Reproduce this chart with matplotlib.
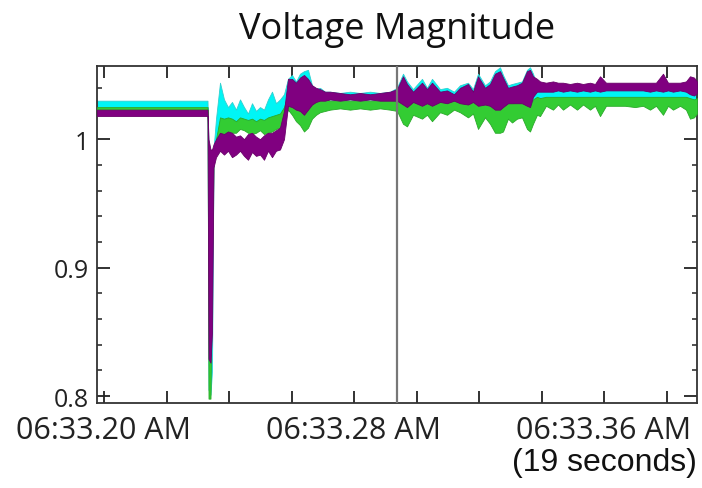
import matplotlib
matplotlib.use("Agg")
import matplotlib.pyplot as plt
from matplotlib.ticker import MultipleLocator, FixedLocator

# time axis in seconds (0 = 06:33.20 AM)
t = [-0.224, 1.472, 3.312, 3.344, 3.408, 3.456, 3.504, 3.584, 3.712, 3.84,
     3.968, 4.096, 4.224, 4.352, 4.48, 4.608, 4.736, 4.864, 4.992, 5.12,
     5.248, 5.376, 5.504, 5.632, 5.76, 5.888, 6.016, 6.144, 6.272, 6.4,
     6.528, 6.656, 6.784, 6.912, 7.072, 7.232, 7.552, 7.872, 8.192, 8.512,
     8.832, 9.152, 9.376, 9.568, 9.696, 9.888, 10.176, 10.336, 10.496, 10.752,
     10.976, 11.2, 11.392, 11.648, 11.808, 11.968, 12.192, 12.352, 12.512, 12.672,
     12.768, 12.928, 13.056, 13.216, 13.376, 13.536, 13.632, 13.728, 13.856, 13.952,
     14.144, 14.368, 14.528, 14.688, 14.912, 15.136, 15.328, 15.552, 15.712, 15.872,
     16.064, 16.352, 16.672, 16.992, 17.248, 17.472, 17.664, 17.888, 18.048, 18.208,
     18.432, 18.624, 18.752, 18.88, 18.976]

cyan_hi = [1.030, 1.030, 1.030, 0.992, 0.984, 0.982, 0.992, 1.016, 1.044, 1.031,
           1.025, 1.029, 1.023, 1.031, 1.025, 1.020, 1.028, 1.022, 1.025, 1.023,
           1.031, 1.037, 1.028, 1.031, 1.035, 1.047, 1.050, 1.045, 1.051, 1.053,
           1.054, 1.042, 1.039, 1.040, 1.037, 1.037, 1.036, 1.037, 1.036, 1.037,
           1.036, 1.037, 1.040, 1.051, 1.045, 1.039, 1.047, 1.040, 1.047, 1.039,
           1.040, 1.037, 1.042, 1.044, 1.039, 1.051, 1.042, 1.045, 1.053, 1.056,
           1.050, 1.042, 1.043, 1.044, 1.045, 1.054, 1.056, 1.051, 1.042, 1.040,
           1.040, 1.041, 1.040, 1.041, 1.040, 1.041, 1.040, 1.040, 1.040, 1.047,
           1.040, 1.040, 1.040, 1.040, 1.040, 1.041, 1.040, 1.048, 1.040, 1.041,
           1.040, 1.042, 1.047, 1.045, 1.042]
cyan_lo = [1.025, 1.025, 1.025, 0.805, 0.801, 0.820, 0.981, 0.992, 1.009, 1.009,
           1.010, 1.011, 1.009, 1.011, 1.012, 1.010, 1.009, 1.010, 1.011, 1.009,
           1.011, 1.012, 1.012, 1.014, 1.019, 1.023, 1.020, 1.017, 1.014, 1.011,
           1.016, 1.025, 1.028, 1.030, 1.030, 1.031, 1.030, 1.031, 1.030, 1.031,
           1.030, 1.030, 1.030, 1.022, 1.020, 1.026, 1.022, 1.026, 1.021, 1.027,
           1.026, 1.029, 1.026, 1.023, 1.027, 1.017, 1.023, 1.019, 1.014, 1.012,
           1.016, 1.025, 1.023, 1.025, 1.025, 1.016, 1.014, 1.025, 1.033, 1.032,
           1.033, 1.032, 1.033, 1.032, 1.033, 1.032, 1.033, 1.033, 1.033, 1.032,
           1.033, 1.033, 1.033, 1.033, 1.033, 1.032, 1.033, 1.032, 1.033, 1.032,
           1.033, 1.033, 1.031, 1.030, 1.031]

green_hi = [1.025, 1.025, 1.025, 0.988, 0.981, 0.981, 0.988, 1.000, 1.017, 1.016,
            1.017, 1.016, 1.014, 1.017, 1.016, 1.015, 1.016, 1.014, 1.016, 1.015,
            1.017, 1.018, 1.019, 1.020, 1.025, 1.035, 1.033, 1.031, 1.030, 1.028,
            1.030, 1.031, 1.033, 1.032, 1.031, 1.030, 1.030, 1.030, 1.030, 1.030,
            1.030, 1.030, 1.030, 1.028, 1.026, 1.029, 1.028, 1.029, 1.028, 1.030,
            1.029, 1.030, 1.029, 1.028, 1.029, 1.027, 1.028, 1.027, 1.026, 1.026,
            1.027, 1.028, 1.028, 1.029, 1.028, 1.027, 1.026, 1.031, 1.033, 1.032,
            1.033, 1.033, 1.033, 1.033, 1.033, 1.033, 1.033, 1.033, 1.033, 1.033,
            1.033, 1.033, 1.033, 1.033, 1.033, 1.033, 1.033, 1.033, 1.033, 1.033,
            1.033, 1.033, 1.032, 1.031, 1.032]
green_lo = [1.023, 1.023, 1.023, 0.798, 0.798, 0.900, 0.981, 0.992, 1.005, 1.004,
            1.006, 1.005, 1.005, 1.008, 1.007, 1.005, 1.004, 1.005, 1.007, 1.004,
            1.005, 1.006, 1.008, 1.009, 1.016, 1.023, 1.019, 1.014, 1.011, 1.006,
            1.009, 1.016, 1.019, 1.021, 1.022, 1.023, 1.024, 1.023, 1.024, 1.023,
            1.024, 1.023, 1.022, 1.012, 1.010, 1.019, 1.016, 1.019, 1.014, 1.021,
            1.019, 1.023, 1.021, 1.017, 1.020, 1.008, 1.017, 1.012, 1.005, 1.005,
            1.006, 1.016, 1.013, 1.016, 1.017, 1.008, 1.006, 1.012, 1.019, 1.018,
            1.026, 1.023, 1.027, 1.023, 1.027, 1.023, 1.027, 1.023, 1.026, 1.018,
            1.026, 1.026, 1.026, 1.025, 1.026, 1.023, 1.026, 1.019, 1.026, 1.023,
            1.026, 1.023, 1.016, 1.017, 1.020]

purple_hi = [1.023, 1.023, 1.023, 1.000, 0.992, 0.992, 0.996, 1.000, 1.005, 1.004,
             1.006, 1.005, 1.002, 1.003, 1.000, 1.004, 1.005, 1.002, 1.000, 1.003,
             1.005, 1.005, 1.007, 1.009, 1.022, 1.047, 1.047, 1.044, 1.048, 1.050,
             1.047, 1.042, 1.040, 1.039, 1.037, 1.037, 1.036, 1.035, 1.036, 1.035,
             1.036, 1.037, 1.039, 1.049, 1.043, 1.037, 1.044, 1.039, 1.044, 1.037,
             1.038, 1.035, 1.040, 1.043, 1.037, 1.049, 1.040, 1.043, 1.051, 1.053,
             1.048, 1.040, 1.041, 1.042, 1.044, 1.053, 1.054, 1.049, 1.047, 1.045,
             1.044, 1.045, 1.044, 1.044, 1.043, 1.044, 1.043, 1.044, 1.043, 1.049,
             1.044, 1.044, 1.044, 1.044, 1.044, 1.044, 1.044, 1.051, 1.044, 1.044,
             1.044, 1.045, 1.049, 1.048, 1.045]
purple_lo = [1.018, 1.018, 1.018, 0.829, 0.826, 0.850, 0.978, 0.986, 0.991, 0.988,
             0.991, 0.986, 0.988, 0.991, 0.987, 0.984, 0.990, 0.987, 0.988, 0.984,
             0.991, 0.986, 0.991, 0.992, 1.000, 1.026, 1.025, 1.023, 1.022, 1.019,
             1.023, 1.027, 1.029, 1.030, 1.030, 1.031, 1.030, 1.031, 1.030, 1.031,
             1.030, 1.030, 1.030, 1.027, 1.025, 1.029, 1.026, 1.028, 1.026, 1.029,
             1.028, 1.030, 1.028, 1.027, 1.029, 1.026, 1.027, 1.026, 1.023, 1.023,
             1.025, 1.028, 1.028, 1.028, 1.028, 1.026, 1.025, 1.033, 1.037, 1.037,
             1.037, 1.037, 1.038, 1.037, 1.038, 1.037, 1.038, 1.037, 1.038, 1.037,
             1.038, 1.038, 1.038, 1.038, 1.038, 1.037, 1.038, 1.037, 1.038, 1.037,
             1.038, 1.037, 1.035, 1.034, 1.036]

marker_time = 9.38
x_tick_pos = [0, 2, 4, 6, 8, 10, 12, 14, 16, 18]
x_tick_labels = ["06:33.20 AM", "", "", "", "06:33.28 AM", "", "", "", "06:33.36 AM", ""]
y_tick_pos = [0.8, 0.9, 1.0]
y_tick_labels = ["0.8", "0.9", "1"]

plt.rcParams['font.family'] = ['Open Sans', 'DejaVu Sans']

fig = plt.figure(figsize=(7.02, 4.89), dpi=100)
ax = fig.add_axes([97 / 702, 85 / 489, 600 / 702, 337 / 489])

ax.fill_between(t, cyan_lo, cyan_hi, color='#00F5F5', lw=0.6, edgecolor='#30D0D0', zorder=2)
ax.fill_between(t, green_lo, green_hi, color='#33CC33', lw=0.6, edgecolor='#2AAA2A', zorder=3)
ax.fill_between(t, purple_lo, purple_hi, color='#800080', lw=0.6, edgecolor='#6A006A', zorder=4)
ax.axvline(marker_time, color='#777777', lw=1.6, zorder=5)

ax.set_xlim(-0.224, 18.976)
ax.set_ylim(0.7946, 1.057)

ax.xaxis.set_major_locator(FixedLocator(x_tick_pos))
ax.set_xticklabels(x_tick_labels)
ax.yaxis.set_major_locator(FixedLocator(y_tick_pos))
ax.set_yticklabels(y_tick_labels)
ax.yaxis.set_minor_locator(MultipleLocator(0.02))

ax.tick_params(axis='x', which='major', direction='in', length=8.5, width=1.3,
               top=True, bottom=True, labelsize=22, pad=9, colors='#222222')
ax.tick_params(axis='y', which='major', direction='in', length=9.5, width=1.3,
               left=True, right=True, labelsize=18, pad=6, colors='#222222')
ax.tick_params(axis='y', which='minor', direction='in', length=3.6, width=1.1,
               left=True, right=True, colors='#222222')

for s in ax.spines.values():
    s.set_linewidth(1.3)
    s.set_color('#333333')

ax.set_title("Voltage Magnitude", fontsize=26, pad=20, color='#111111')
fig.text(697 / 702, (489 - 463) / 489, "(19 seconds)", ha='right', va='center',
         fontsize=23, family='Liberation Sans', color='#111111')

fig.savefig("out.png", dpi=100)
